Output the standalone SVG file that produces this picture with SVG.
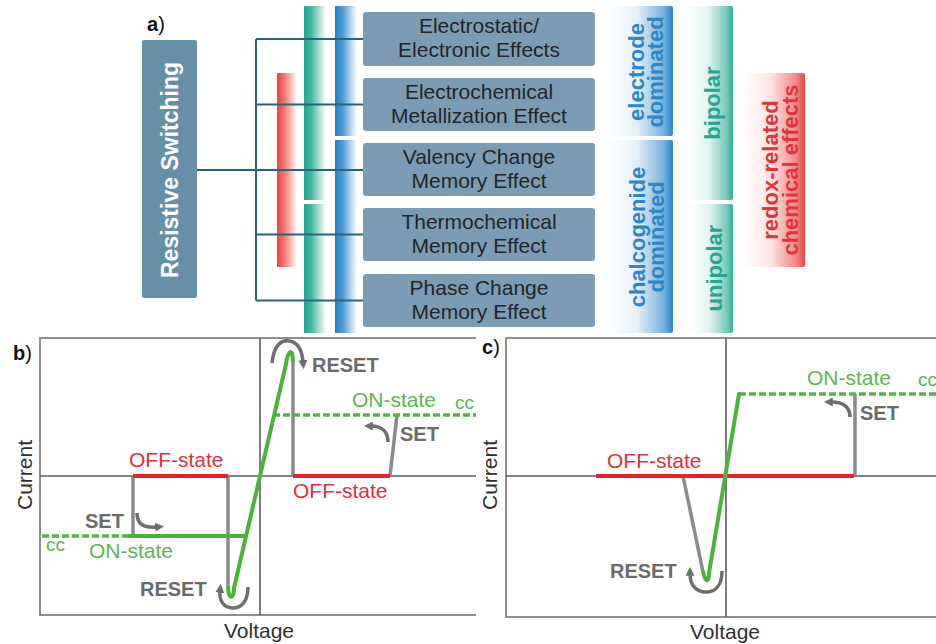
<svg xmlns="http://www.w3.org/2000/svg" width="936" height="644" viewBox="0 0 936 644">
<defs>
<style>
text{font-family:"Liberation Sans",Arial,sans-serif}
.box{fill:#7b9cb4}
.btxt{font-size:21px;fill:#1f2529;text-anchor:middle}
.conn{stroke:#2b6379;stroke-width:2;fill:none}
.rot{font-size:22px;font-weight:bold;text-anchor:middle}
.frame{stroke:#8e8e8e;stroke-width:2;fill:none}
.axis{stroke:#5e5e5e;stroke-width:1.6;fill:none}
.red{stroke:#e8222c;stroke-width:4;fill:none}
.grn{stroke:#49b33a;stroke-width:4;fill:none;stroke-linejoin:round}
.dash{stroke:#52b544;stroke-width:3.5;fill:none;stroke-dasharray:7,3}
.gry{stroke:#8a8a8a;stroke-width:3.5;fill:none}
.arr{stroke:#6e6e6e;stroke-width:3.5;fill:none;marker-end:url(#ah)}
.lab{font-size:20px;font-weight:bold;fill:#6a6a6a}
.redt{font-size:21px;fill:#e0303a}
.grnt{font-size:21px;fill:#5cb650}
.cc{font-size:19px;fill:#5cb650}
.ax{font-size:21px;fill:#303030}
.pl{font-size:20px;fill:#111}
</style>
<marker id="ah" viewBox="0 0 10 10" refX="2" refY="5" markerWidth="9" markerHeight="9" orient="auto" markerUnits="userSpaceOnUse"><path d="M0,0 L10,5 L0,10 z" fill="#6e6e6e"/></marker>
<linearGradient id="gRedBar" x1="0" y1="0" x2="1" y2="0"><stop offset="0" stop-color="#ec4444"/><stop offset="0.35" stop-color="#f0706a"/><stop offset="1" stop-color="#fff3ee"/></linearGradient>
<linearGradient id="gTealBar" x1="0" y1="0" x2="1" y2="0"><stop offset="0" stop-color="#22a48e"/><stop offset="0.35" stop-color="#4bb9a6"/><stop offset="1" stop-color="#ffffff"/></linearGradient>
<linearGradient id="gBlueBar" x1="0" y1="0" x2="1" y2="0"><stop offset="0" stop-color="#2280c6"/><stop offset="0.35" stop-color="#4f9ad2"/><stop offset="1" stop-color="#ffffff"/></linearGradient>
<linearGradient id="gBlueBr" x1="0" y1="0" x2="1" y2="0"><stop offset="0" stop-color="#ffffff"/><stop offset="0.45" stop-color="#e6f0f9"/><stop offset="0.85" stop-color="#7ab3de"/><stop offset="1" stop-color="#2a86cc"/></linearGradient>
<linearGradient id="gTealBr" x1="0" y1="0" x2="1" y2="0"><stop offset="0" stop-color="#ffffff"/><stop offset="0.45" stop-color="#e4f4f1"/><stop offset="0.85" stop-color="#79cbbd"/><stop offset="1" stop-color="#2bb09a"/></linearGradient>
<linearGradient id="gRedBr" x1="0" y1="0" x2="1" y2="0"><stop offset="0" stop-color="#ffffff"/><stop offset="0.45" stop-color="#fce6e4"/><stop offset="0.85" stop-color="#f38a86"/><stop offset="1" stop-color="#ea4444"/></linearGradient>
</defs>
<rect width="936" height="644" fill="#ffffff"/>

<!-- panel a -->
<text x="147" y="31" class="pl"><tspan font-weight="bold">a</tspan>)</text>

<g id="bars">
<rect x="277" y="73" width="19" height="194" fill="url(#gRedBar)"/>
<rect x="304" y="6" width="22" height="194" fill="url(#gTealBar)"/>
<rect x="304" y="204" width="22" height="129" fill="url(#gTealBar)"/>
<rect x="335" y="6" width="22" height="130" fill="url(#gBlueBar)"/>
<rect x="335" y="140" width="22" height="193" fill="url(#gBlueBar)"/>
</g>

<g id="node-resistive">
<rect x="142" y="40" width="55" height="258" rx="2" fill="#6690a8"/>
<text transform="translate(178,170) rotate(-90)" font-size="23" font-weight="bold" fill="#ffffff" text-anchor="middle">Resistive Switching</text>
</g>

<g id="connectors">
<path class="conn" d="M197,170 H363 M256,39 V300.5 M256,39 H363 M256,104.5 H363 M256,234.5 H363 M256,300.5 H363"/>
</g>

<g id="node-electrostatic">
<rect class="box" x="363" y="12" width="232" height="54" rx="3"/>
<text class="btxt" x="479" y="33">Electrostatic/</text>
<text class="btxt" x="479" y="57">Electronic Effects</text>
</g>
<g id="node-ecm">
<rect class="box" x="363" y="78" width="232" height="53" rx="3"/>
<text class="btxt" x="479" y="98.5">Electrochemical</text>
<text class="btxt" x="479" y="122.5">Metallization Effect</text>
</g>
<g id="node-vcm">
<rect class="box" x="363" y="143" width="232" height="53" rx="3"/>
<text class="btxt" x="479" y="163.5">Valency Change</text>
<text class="btxt" x="479" y="187.5">Memory Effect</text>
</g>
<g id="node-tcm">
<rect class="box" x="363" y="208" width="232" height="53" rx="3"/>
<text class="btxt" x="479" y="228.5">Thermochemical</text>
<text class="btxt" x="479" y="252.5">Memory Effect</text>
</g>
<g id="node-pcm">
<rect class="box" x="363" y="274" width="232" height="53" rx="3"/>
<text class="btxt" x="479" y="294.5">Phase Change</text>
<text class="btxt" x="479" y="318.5">Memory Effect</text>
</g>

<g id="node-electrode">
<rect x="607" y="6" width="66" height="130" rx="2" fill="url(#gBlueBr)"/>
<text class="rot" fill="#2a86c8" transform="translate(644,72) rotate(-90)">electrode</text>
<text class="rot" fill="#2a86c8" transform="translate(663,72) rotate(-90)">dominated</text>
</g>
<g id="node-chalcogenide">
<rect x="607" y="140" width="66" height="193" rx="2" fill="url(#gBlueBr)"/>
<text class="rot" fill="#2a86c8" transform="translate(645,237) rotate(-90)">chalcogenide</text>
<text class="rot" fill="#2a86c8" transform="translate(664,237) rotate(-90)">dominated</text>
</g>
<g id="node-bipolar">
<rect x="687" y="6" width="46" height="194" rx="2" fill="url(#gTealBr)"/>
<text class="rot" fill="#25a58f" transform="translate(720,103) rotate(-90)">bipolar</text>
</g>
<g id="node-unipolar">
<rect x="690" y="204" width="43" height="129" rx="2" fill="url(#gTealBr)"/>
<text class="rot" fill="#25a58f" transform="translate(722,268) rotate(-90)">unipolar</text>
</g>
<g id="node-redox">
<rect x="742" y="73" width="63" height="194" rx="2" fill="url(#gRedBr)"/>
<text class="rot" fill="#e0353c" transform="translate(778,170) rotate(-90)">redox-related</text>
<text class="rot" fill="#e0353c" transform="translate(798,170) rotate(-90)">chemical effects</text>
</g>

<!-- panel b -->
<g id="panel-b">
<path class="frame" d="M476,338 H40 V615 H476"/>
<path class="axis" d="M260,338 V615 M40,476 H476"/>
<text x="13" y="360" class="pl"><tspan font-weight="bold">b</tspan>)</text>
<text class="ax" transform="translate(32,475) rotate(-90)" text-anchor="middle">Current</text>
<text class="ax" x="259" y="638" text-anchor="middle">Voltage</text>
<path class="gry" d="M133,476 V536 M228,476 V588 M293,362 V476 M390,476 L397,415"/>
<path class="red" d="M133,476 H228 M293,476 H390"/>
<path class="dash" d="M42,536 H128 M273,415 H476"/>
<path class="grn" d="M128,536 H246 M228,586 C228,600 234,600 234,588 L286,364 C288,349 293,348 293,362"/>
<path class="arr" d="M272,363 C274,344 282,340 289,341 C298,342 302,350 303,362"/>
<path class="arr" d="M388,442 C388,432 382,426 371,426"/>
<path class="arr" d="M137,513 C137,524 143,528 157,527"/>
<path class="arr" d="M248,587 C248,603 240,608 233,608 C224,608 219,601 220,591"/>
<text class="redt" x="129" y="467">OFF-state</text>
<text class="redt" x="293" y="498">OFF-state</text>
<text class="grnt" x="352" y="407">ON-state</text>
<text class="cc" x="455" y="409">cc</text>
<text class="grnt" x="89" y="558">ON-state</text>
<text class="cc" x="46" y="551">cc</text>
<text class="lab" x="312" y="372">RESET</text>
<text class="lab" x="400" y="441">SET</text>
<text class="lab" x="85" y="528">SET</text>
<text class="lab" x="140" y="596">RESET</text>
</g>

<!-- panel c -->
<g id="panel-c">
<path class="frame" d="M936,338 H506 V617 H936"/>
<path class="axis" d="M726,338 V617 M506,476 H936"/>
<text x="482" y="354" class="pl"><tspan font-weight="bold">c</tspan>)</text>
<text class="ax" transform="translate(497,475) rotate(-90)" text-anchor="middle">Current</text>
<text class="ax" x="725" y="639" text-anchor="middle">Voltage</text>
<path class="gry" d="M855,476 V394 M683,476 L703,572"/>
<path class="red" d="M596,476 H854"/>
<path class="dash" d="M739,394 H936"/>
<path class="grn" d="M703,571 C705,583 709,583 709,573 L739,394 H741"/>
<path class="arr" d="M850,417 C850,407 843,402 831,402"/>
<path class="arr" d="M722,571 C722,587 714,592 706,592 C697,592 690,586 690,574"/>
<text class="grnt" x="807" y="385">ON-state</text>
<text class="cc" x="918" y="386">cc</text>
<text class="lab" x="860" y="420">SET</text>
<text class="redt" x="607" y="468">OFF-state</text>
<text class="lab" x="610" y="578">RESET</text>
</g>
</svg>
